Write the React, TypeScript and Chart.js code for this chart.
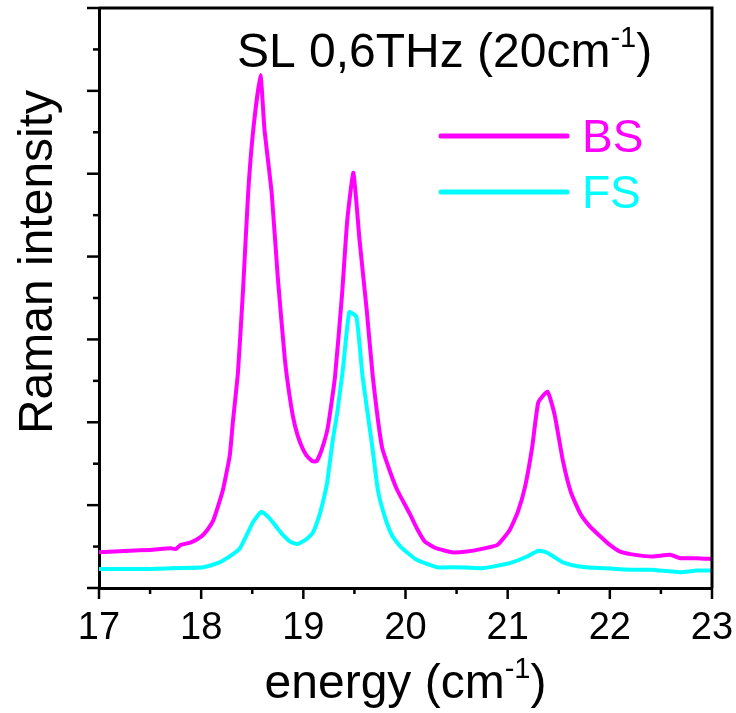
import React, { useEffect, useRef } from 'react';
import { Chart, registerables } from 'chart.js';

Chart.register(...registerables);

// ---- Data ----
const bsEnergy = [
  17.0, 17.3, 17.5, 17.7, 17.75, 17.8, 17.9, 18.0, 18.06, 18.12, 18.21, 18.28, 18.31, 18.36, 18.41,
  18.46, 18.51, 18.58, 18.62, 18.69, 18.75, 18.82, 18.88, 18.92, 18.97, 19.03, 19.09, 19.13, 19.18,
  19.24, 19.31, 19.38, 19.43, 19.49, 19.55, 19.62, 19.68, 19.77, 19.85, 19.92, 20.04, 20.12, 20.19,
  20.3, 20.46, 20.6, 20.7, 20.9, 21.02, 21.1, 21.17, 21.24, 21.3, 21.39, 21.46, 21.54, 21.62, 21.71,
  21.8, 21.9, 22.0, 22.1, 22.25, 22.42, 22.59, 22.69, 22.85, 23.0,
];
const bsIntensity = [
  0.43, 0.45, 0.46, 0.48, 0.47, 0.52, 0.55, 0.62, 0.7, 0.82, 1.17, 1.6, 2.0, 2.6, 3.6,
  4.77, 5.53, 6.19, 5.53, 4.77, 3.75, 2.75, 2.2, 1.95, 1.75, 1.6, 1.53, 1.53, 1.67,
  1.94, 2.55, 3.56, 4.44, 5.01, 4.2, 3.36, 2.55, 1.7, 1.4, 1.18, 0.9, 0.7, 0.56,
  0.48, 0.43, 0.44, 0.46, 0.52, 0.7, 0.92, 1.22, 1.7, 2.24, 2.37, 2.09, 1.54, 1.15, 0.9,
  0.75, 0.63, 0.52, 0.44, 0.4, 0.38, 0.4, 0.36, 0.36, 0.35,
];
const fsEnergy = [
  17.0, 17.5, 17.8, 18.02, 18.18, 18.3, 18.38, 18.45, 18.51, 18.59, 18.67, 18.74, 18.8, 18.87, 18.94,
  19.02, 19.09, 19.15, 19.19, 19.23, 19.29, 19.33, 19.39, 19.45, 19.52, 19.58, 19.67, 19.73, 19.8,
  19.87, 19.95, 20.11, 20.31, 20.5, 20.76, 21.02, 21.19, 21.3, 21.38, 21.46, 21.54, 21.7, 21.9, 22.2,
  22.4, 22.69, 22.85, 23.0,
];
const fsIntensity = [
  0.23, 0.23, 0.24, 0.25, 0.31, 0.4, 0.48, 0.65, 0.8, 0.92, 0.84, 0.73, 0.64, 0.56, 0.53,
  0.58, 0.66, 0.85, 1.03, 1.25, 1.8, 2.1, 2.67, 3.33, 3.27, 2.55, 1.75, 1.18, 0.85,
  0.63, 0.5, 0.34, 0.25, 0.25, 0.24, 0.3, 0.38, 0.45, 0.43, 0.37, 0.31, 0.26, 0.24, 0.22,
  0.22, 0.19, 0.21, 0.21,
];
const seriesLabels = ['BS', 'FS'];
const seriesColors = ['#ff00ff', '#00ffff'];
const xMajorTicks = [17, 18, 19, 20, 21, 22, 23];
const yMajorTicks = [0, 1, 2, 3, 4, 5, 6, 7];
const titleParts = ['SL 0,6THz (20cm', '-1', ')'];
const xTitleParts = ['energy (cm', '-1', ')'];
const yTitle = 'Raman intensity';

const FONT = '"Liberation Sans", Arial, Helvetica, sans-serif';

function drawSupText(ctx: CanvasRenderingContext2D, parts: string[], x: number, y: number, size: number, align: 'left' | 'center') {
  const supSize = Math.round(size * 0.6);
  ctx.font = `${size}px ${FONT}`;
  const w0 = ctx.measureText(parts[0]).width;
  const w2 = ctx.measureText(parts[2]).width;
  ctx.font = `${supSize}px ${FONT}`;
  const w1 = ctx.measureText(parts[1]).width;
  const total = w0 + w1 + w2;
  let sx = align === 'center' ? x - total / 2 : x;
  ctx.textAlign = 'left';
  ctx.textBaseline = 'alphabetic';
  ctx.font = `${size}px ${FONT}`;
  ctx.fillText(parts[0], sx, y);
  sx += w0;
  ctx.font = `${supSize}px ${FONT}`;
  ctx.fillText(parts[1], sx, y - size * 0.42);
  sx += w1;
  ctx.font = `${size}px ${FONT}`;
  ctx.fillText(parts[2], sx, y);
}

const decorPlugin = {
  id: 'decor',
  afterDraw(chart: any) {
    const { ctx, chartArea: a, scales } = chart;
    const xs = scales.x;
    const ys = scales.y;
    ctx.save();
    ctx.strokeStyle = '#000';
    ctx.lineWidth = 3;
    ctx.lineCap = 'butt';
    // top & right frame
    ctx.beginPath();
    ctx.moveTo(a.left, a.top);
    ctx.lineTo(a.right, a.top);
    ctx.lineTo(a.right, a.bottom);
    ctx.stroke();
    // y ticks (major + minor), outside
    ctx.lineWidth = 2.5;
    for (let i = 0; i < yMajorTicks.length; i++) {
      const v = yMajorTicks[i];
      const py = ys.getPixelForValue(v);
      ctx.beginPath();
      ctx.moveTo(a.left - 12, py);
      ctx.lineTo(a.left, py);
      ctx.stroke();
      if (i < yMajorTicks.length - 1) {
        const pm = ys.getPixelForValue(v + 0.5);
        ctx.beginPath();
        ctx.moveTo(a.left - 6, pm);
        ctx.lineTo(a.left, pm);
        ctx.stroke();
      }
    }
    // x ticks
    for (let i = 0; i < xMajorTicks.length; i++) {
      const v = xMajorTicks[i];
      const px = xs.getPixelForValue(v);
      ctx.beginPath();
      ctx.moveTo(px, a.bottom);
      ctx.lineTo(px, a.bottom + 11);
      ctx.stroke();
      if (i < xMajorTicks.length - 1) {
        const pm = xs.getPixelForValue(v + 0.5);
        ctx.beginPath();
        ctx.moveTo(pm, a.bottom);
        ctx.lineTo(pm, a.bottom + 6);
        ctx.stroke();
      }
    }
    // legend
    const legendSize = 46;
    chart.data.datasets.forEach((ds: any, i: number) => {
      const ly = a.top + 128 + i * 56;
      ctx.strokeStyle = ds.borderColor;
      ctx.lineWidth = 5;
      ctx.lineCap = 'round';
      ctx.beginPath();
      ctx.moveTo(a.left + 342, ly);
      ctx.lineTo(a.left + 468, ly);
      ctx.stroke();
      ctx.fillStyle = ds.borderColor;
      ctx.font = `${legendSize}px ${FONT}`;
      ctx.textAlign = 'left';
      ctx.textBaseline = 'alphabetic';
      ctx.fillText(ds.label, a.left + 483, ly + legendSize * 0.716 / 2);
    });
    // title
    ctx.fillStyle = '#000';
    drawSupText(ctx, titleParts, a.left + 138, a.top + 59, 48, 'left');
    // x axis title
    drawSupText(ctx, xTitleParts, (a.left + a.right) / 2, 698, 48, 'center');
    // y axis title
    ctx.save();
    ctx.translate(52, 262);
    ctx.rotate(-Math.PI / 2);
    ctx.font = `48px ${FONT}`;
    ctx.textAlign = 'center';
    ctx.textBaseline = 'alphabetic';
    ctx.fillText(yTitle, 0, 0);
    ctx.restore();
    ctx.restore();
  },
};

export default function App() {
  const ref = useRef<HTMLCanvasElement | null>(null);
  useEffect(() => {
    document.body.style.margin = '0';
    if (!ref.current) return;
    const mk = (xs: number[], ys: number[]) => xs.map((x, i) => ({ x, y: ys[i] }));
    const chart = new Chart(ref.current, {
      type: 'line',
      data: {
        datasets: [
          {
            label: seriesLabels[0],
            data: mk(bsEnergy, bsIntensity),
            borderColor: seriesColors[0],
            borderWidth: 4,
            pointRadius: 0,
            tension: 0.15,
            borderJoinStyle: 'round',
          },
          {
            label: seriesLabels[1],
            data: mk(fsEnergy, fsIntensity),
            borderColor: seriesColors[1],
            borderWidth: 4,
            pointRadius: 0,
            tension: 0.15,
            borderJoinStyle: 'round',
          },
        ],
      },
      options: {
        animation: false,
        responsive: false,
        layout: { padding: { top: 8, right: 24, left: 0, bottom: 0 } },
        plugins: { legend: { display: false }, title: { display: false }, tooltip: { enabled: false } },
        scales: {
          x: {
            type: 'linear',
            min: 17,
            max: 23,
            afterFit: (s: any) => { s.height = 125; s.paddingLeft = 0; s.paddingRight = 0; },
            grid: { display: false, drawTicks: false },
            border: { display: true, color: '#000', width: 3 },
            ticks: {
              stepSize: 1,
              color: '#000',
              padding: 18,
              font: { family: FONT, size: 38 },
              callback: (v: any) => String(v),
            },
          },
          y: {
            min: 0,
            max: 7,
            afterFit: (s: any) => { s.width = 99; s.paddingTop = 0; s.paddingBottom = 0; },
            grid: { display: false, drawTicks: false },
            border: { display: true, color: '#000', width: 3 },
            ticks: { display: false, stepSize: 1 },
          },
        },
      },
      plugins: [decorPlugin],
    });
    return () => chart.destroy();
  }, []);
  return (
    <div style={{ width: 736, height: 713 }}>
      <canvas ref={ref} width={736} height={713} />
    </div>
  );
}
